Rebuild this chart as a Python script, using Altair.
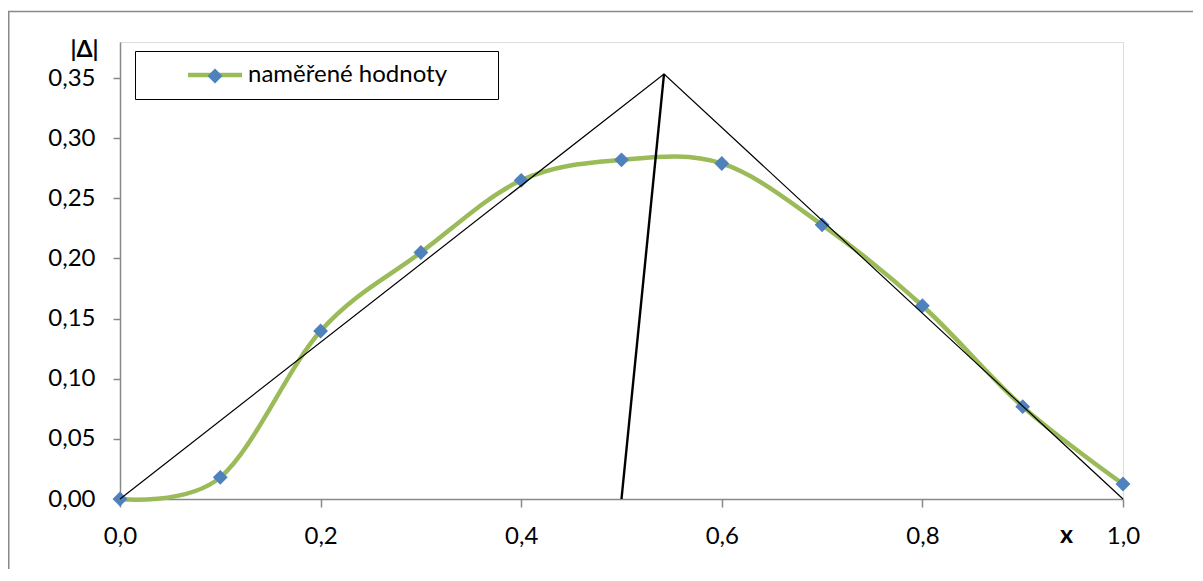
import altair as alt
import pandas as pd

# measured values
x_vals = [0.0, 0.1, 0.2, 0.3, 0.4, 0.5, 0.6, 0.7, 0.8, 0.9, 1.0]
y_vals = [0.0, 0.018, 0.1397, 0.205, 0.265, 0.282, 0.279, 0.228, 0.1607, 0.0768, 0.0125]
series_name = "naměřené hodnoty"

# auxiliary construction lines
tri_x = [0.0, 0.5424, 1.0]
tri_y = [0.0, 0.3534, 0.0]
med_x = [0.5, 0.5424]
med_y = [0.0, 0.3534]

x_ticks = [0.0, 0.2, 0.4, 0.6, 0.8, 1.0]
y_ticks = [0.0, 0.05, 0.10, 0.15, 0.20, 0.25, 0.30, 0.35]

FONT = "Lato"
FS = 24
GREEN = "#9BBB59"
BLUE = "#4F81BD"
GRAY = "#898989"

df = pd.DataFrame({"x": x_vals, "y": y_vals, "s": [series_name] * len(x_vals)})
tri = pd.DataFrame({"x": tri_x, "y": tri_y, "o": list(range(len(tri_x)))})
med = pd.DataFrame({"x": med_x, "y": med_y, "o": list(range(len(med_x)))})

xs = alt.Scale(domain=[0, 1], nice=False, zero=False)
ys = alt.Scale(domain=[0, 0.38], nice=False)

x_axis = alt.Axis(
    values=x_ticks,
    labelExpr="replace(format(datum.value, '.1f'), '.', ',')",
    title="x",
    titleFont=FONT, titleFontSize=25, titleFontWeight="bold", titleColor="black",
    titleX=946, titleY=43, titleAlign="center", titleBaseline="alphabetic",
    grid=False, domainColor=GRAY, domainWidth=1.5, tickColor=GRAY, tickWidth=1.5,
    tickSize=8, labelFont=FONT, labelFontSize=FS, labelColor="black",
    labelBaseline="alphabetic", labelPadding=36, labelFlush=False, labelOverlap=False,
)
y_axis = alt.Axis(
    values=y_ticks,
    labelExpr="replace(format(datum.value, '.2f'), '.', ',')",
    title="|Δ|",
    titleFont=FONT, titleFontSize=23, titleFontWeight="bold", titleColor="black",
    titleAngle=0, titleX=-36, titleY=7, titleAlign="center", titleBaseline="middle",
    grid=False, domainColor=GRAY, domainWidth=1.5, tickColor=GRAY, tickWidth=1.5,
    tickSize=7, labelFont=FONT, labelFontSize=FS, labelColor="black",
    labelPadding=18, labelFlush=False, labelOverlap=False,
)

frame = alt.Chart(pd.DataFrame({"a": [0]})).mark_rect(
    fill=None, stroke=GRAY, strokeWidth=1.5
).encode(
    x=alt.value(-111.25), y=alt.value(-30.5), x2=alt.value(1200), y2=alt.value(700)
)

line = alt.Chart(df).mark_line(interpolate="cardinal", strokeWidth=4.5).encode(
    x=alt.X("x:Q", scale=xs, axis=x_axis),
    y=alt.Y("y:Q", scale=ys, axis=y_axis),
    stroke=alt.Stroke(
        "s:N",
        scale=alt.Scale(domain=[series_name], range=[GREEN]),
        legend=alt.Legend(
            orient="none", legendX=15, legendY=9, title=None,
            symbolType="M-5.4,0H5.4M52.4,0", symbolSize=100, symbolStrokeWidth=4.5,
            symbolOffset=56, labelOffset=21, padding=12, labelLimit=500,
            strokeColor="black", labelFont=FONT, labelFontSize=FS, labelColor="black",
            zindex=1,
        ),
    ),
)

points = alt.Chart(df).mark_point(shape="diamond", filled=True, size=220, opacity=1).encode(
    x=alt.X("x:Q", scale=xs),
    y=alt.Y("y:Q", scale=ys),
    fill=alt.Fill(
        "s:N",
        scale=alt.Scale(domain=[series_name], range=[BLUE]),
        legend=alt.Legend(
            orient="none", legendX=87.5, legendY=26.5, title=None,
            symbolType="diamond", symbolSize=225, symbolStrokeWidth=0, symbolOpacity=1,
            labelExpr="''", labelFontSize=1, padding=0, zindex=2,
        ),
    ),
)

tri_line = alt.Chart(tri).mark_line(color="black", strokeWidth=1.2).encode(
    x=alt.X("x:Q", scale=xs), y=alt.Y("y:Q", scale=ys), order="o:Q"
)
med_line = alt.Chart(med).mark_line(color="black", strokeWidth=2.4).encode(
    x=alt.X("x:Q", scale=xs), y=alt.Y("y:Q", scale=ys), order="o:Q"
)

chart = alt.layer(frame, line, points, tri_line, med_line).resolve_scale(
    stroke="independent", fill="independent"
).properties(
    width=1003, height=457,
    autosize=alt.AutoSizeParams(type="none"),
    padding={"left": 112, "top": 34, "right": 70, "bottom": 70},
).configure_view(stroke=None).configure(background="white")

chart.save("out.html", embed_options={"renderer": "svg", "actions": False})
